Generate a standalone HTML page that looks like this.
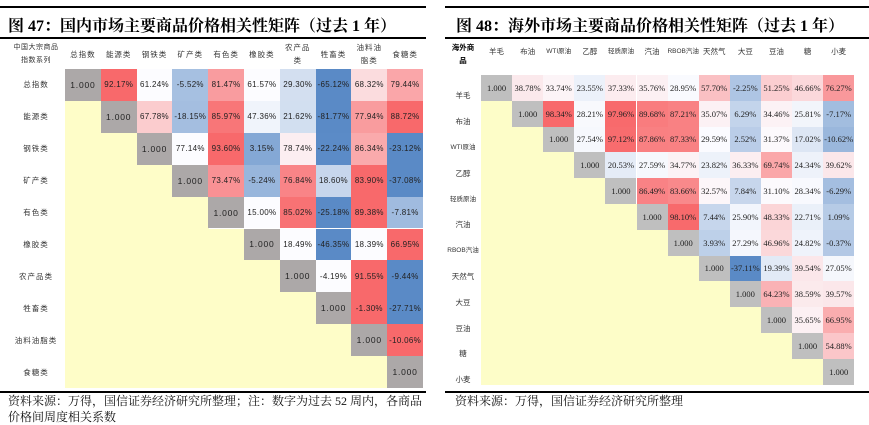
<!DOCTYPE html>
<html><head><meta charset="utf-8">
<style>
body{margin:0;width:869px;height:422px;background:#fff;position:relative;overflow:hidden;font-family:"Liberation Sans","Noto Sans CJK SC",sans-serif;}
.abs{position:absolute;}
.line{position:absolute;height:1.5px;background:#000;}
.title{position:absolute;font-family:"Liberation Serif","Noto Serif CJK SC",serif;font-weight:bold;font-size:16px;white-space:nowrap;}
.cell{position:absolute;display:flex;align-items:center;justify-content:center;font-size:8.5px;color:#222;box-sizing:border-box;white-space:nowrap;}
.lbl{position:absolute;display:flex;align-items:center;justify-content:center;text-align:center;font-size:7.5px;color:#333;line-height:13px;white-space:nowrap;letter-spacing:1px;}
.src{position:absolute;font-family:"Liberation Serif","Noto Serif CJK SC",serif;font-size:12px;color:#111;line-height:16px;}
</style></head><body>
<div class="line" style="left:0;top:6px;width:426px"></div>
<div class="title" style="left:8px;top:13px">图 47：国内市场主要商品价格相关性矩阵（过去 1 年）</div>
<div class="line" style="left:0;top:37px;width:426px"></div>
<div class="line" style="left:0;top:391px;width:426px"></div>
<div class="src" style="left:8px;top:393px;width:420px">资料来源：万得，国信证券经济研究所整理；注：数字为过去 52 周内，各商品价格间周度相关系数</div>

<div class="line" style="left:445px;top:6px;width:424px"></div>
<div class="title" style="left:456px;top:13px">图 48：海外市场主要商品价格相关性矩阵（过去 1 年）</div>
<div class="line" style="left:445px;top:37px;width:424px"></div>
<div class="line" style="left:445px;top:391px;width:424px"></div>
<div class="src" style="left:455px;top:393px">资料来源：万得，国信证券经济研究所整理</div>

<div id="L" class="abs" style="left:0;top:0"></div>
<div id="R" class="abs" style="left:0;top:0"></div>
<script>
const leftLabels=["总指数","能源类","钢铁类","矿产类","有色类","橡胶类","农产品类","牲畜类","油料油脂类","食糖类"];
const leftHead=["总指数","能源类","钢铁类","矿产类","有色类","橡胶类","农产品类","牲畜类","油料油脂类","食糖类"];
const leftRows=[
[92.17,61.24,-5.52,81.47,61.57,29.30,-65.12,68.32,79.44],
[67.78,-18.15,85.97,47.36,21.62,-81.77,77.94,88.72],
[77.14,93.60,3.15,78.74,-22.24,86.34,-23.12],
[73.47,-5.24,76.84,18.60,83.90,-37.08],
[15.00,85.02,-25.18,89.38,-7.81],
[18.49,-46.35,18.39,66.95],
[-4.19,91.55,-9.44],
[-1.30,-27.71],
[-10.06],[]];
const rightLabels=["羊毛","布油","WTI原油","乙醇","轻质原油","汽油","RBOB汽油","天然气","大豆","豆油","糖","小麦"];
const rightRows=[
[38.78,33.74,23.55,37.33,35.76,28.95,57.70,-2.25,51.25,46.66,76.27],
[98.34,28.21,97.96,89.68,87.21,35.07,6.29,34.46,25.81,-7.17],
[27.54,97.12,87.86,87.33,29.59,2.52,31.37,17.02,-10.62],
[20.53,27.59,34.77,23.82,36.33,69.74,24.34,39.62],
[86.49,83.66,32.57,7.84,31.10,28.34,-6.29],
[98.10,7.44,25.90,48.33,22.71,1.09],
[3.93,27.29,46.96,24.82,-0.37],
[-37.11,19.39,39.54,27.05],
[64.23,38.59,39.57],
[35.65,66.95],
[54.88],[]];

function mix(a,b,t){t=Math.max(0,Math.min(1,t));return 'rgb('+a.map((v,i)=>Math.round(v+(b[i]-v)*t)).join(',')+')';}
const BLUE=[90,138,198],WHITE=[252,252,255],RED=[248,105,107];
function scale(v,mn,md,mx){
  if(v>=md) return mix(WHITE,RED,mx>md?(v-md)/(mx-md):1);
  return mix(WHITE,BLUE,md>mn?(md-v)/(md-mn):1);
}
function add(parent,cls,x,y,w,h,txt,bg,name){
  const d=document.createElement('div');d.className=cls;
  d.style.left=x+'px';d.style.top=y+'px';d.style.width=w+'px';d.style.height=h+'px';
  if(bg)d.style.background=bg;d.innerHTML=txt;
  
  
  parent.appendChild(d);return d;
}
function fmt(v){return v.toFixed(2)+'%';}

// LEFT (per-row color scale)
(function(){
  const P=document.getElementById('L');
  const x0=65,y0=69,cw=35.8,rh=31.9,n=10;
  const c=add(P,'lbl',7,40,58,28,'中国大宗商品<br>指数系列',null,'matrix-corner-label');c.style.fontSize='7px';c.style.letterSpacing='0.5px';
  leftHead.forEach((h,j)=>{let t=h;if(h==='农产品类')t='农产品<br>类';if(h==='油料油脂类')t='油料油<br>脂类';
    add(P,'lbl',x0+j*cw,40,cw,28,t,null,'column-header');});
  leftLabels.forEach((h,i)=>add(P,'lbl',7,y0+i*rh,58,rh,h,null,'row-label'));
  for(let i=0;i<n;i++){
    const row=leftRows[i];const s=row.slice().sort((a,b)=>a-b);
    const mn=s[0],mx=s[s.length-1];
    const md=s.length? (s.length%2?s[(s.length-1)/2]:(s[s.length/2-1]+s[s.length/2])/2):0;
    for(let j=0;j<n;j++){
      const x=x0+j*cw,y=y0+i*rh;
      if(i>j) add(P,'cell',x,y,cw+0.5,rh+0.5,'','#fefdc8','lower-blank');
      else if(i===j){const d=add(P,'cell',x,y,cw,rh,'1.000','#aca8a8','diagonal-cell');d.style.letterSpacing='0.8px';}
      else{const v=row[j-i-1];const col=s.length>1?scale(v,mn,md,mx):mix(WHITE,RED,1);
        const d=add(P,'cell',x,y,cw,rh,fmt(v),col,'corr-cell');d.style.letterSpacing='0.3px';d.style.fontSize='8px';}
    }
  }
})();

// RIGHT
(function(){
  const P=document.getElementById('R');
  const x0=481,y0=75,cw=31.1,rh=25.8,n=12;
  const c=add(P,'lbl',446,40,34,28,'<b>海外商<br>品</b>',null,'matrix-corner-label');c.style.color='#000';c.style.letterSpacing='0';
  rightLabels.forEach((h,j)=>{const d=add(P,'lbl',x0+j*cw,40,cw,22,h,null,'column-header');d.style.letterSpacing='0';d.style.fontSize=(h.length>3?'6.5px':'7.5px');});
  rightLabels.forEach((h,i)=>{const d=add(P,'lbl',445,y0+i*rh+8,36,rh,h,null,'row-label');d.style.letterSpacing='0';d.style.fontSize=(h.length>3?'6.5px':'7.5px');});
  for(let i=0;i<n;i++)for(let j=0;j<n;j++){
    const x=x0+j*cw,y=y0+i*rh;
    let d;
    if(i>j) d=add(P,'cell',x,y,cw+0.5,rh+0.5,'','#fdfdc8','lower-blank');
    else if(i===j) d=add(P,'cell',x,y,cw,rh,'1.000','#bfbfbf','diagonal-cell');
    else{const v=rightRows[i][j-i-1];d=add(P,'cell',x,y,cw,rh,fmt(v),scale(v,-37.11,30,98.34),'corr-cell');}
    d.style.fontFamily='"Liberation Serif",serif';d.style.fontSize='8.5px';
  }
})();
</script>
</body></html>
